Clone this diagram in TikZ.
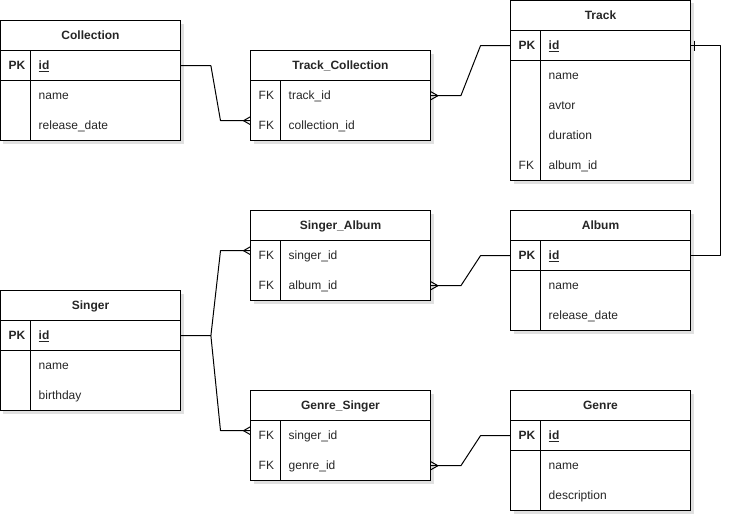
\documentclass[tikz,border=0pt]{standalone}
\usepackage{fontspec}
\setmainfont{Liberation Sans}
\usetikzlibrary{calc}
\newcommand\ertable[5]{% name, x, y, title, nrows
  \fill[shadowbox] (#2+3,#3+3) rectangle (#2+183,#3+33+30*#5);
  \fill[white] (#2,#3) rectangle (#2+180,#3+30+30*#5);
  \node[hdr, anchor=north west] (#1) at (#2,#3) {};
  \node[txt, anchor=base, font=\fontsize{12}{14}\selectfont\bfseries] (#1-title) at (#2+90,#3+19) {#4};
  \draw[frame] (#2,#3) rectangle (#2+180,#3+30+30*#5);
  \draw[frame] (#2,#3+30) -- (#2+180,#3+30);
  \draw[frame] (#2+30,#3+30) -- (#2+30,#3+30+30*#5);
}
\newcommand\errow[5]{% name, x, y(top), key, field
  \node[cell, anchor=north west] (#1) at (#2,#3) {};
  \node[txt, anchor=base west] (#1-k) at (#2+8,#3+19) {#4};
  \node[txt, anchor=base west] (#1-f) at (#2+38,#3+19) {#5};
}
\newcommand\erpk[3]{% name, x, y(top)
  \errow{#1}{#2}{#3}{\textbf{PK}}{\textbf{\underline{id}}}
  \draw[frame] (#2,#3+30) -- (#2+180,#3+30);
}
\begin{document}
\begin{tikzpicture}[x=1pt,y=-1pt,
  frame/.style={line width=1pt,draw=black},
  conn/.style={line width=1pt,draw=black,line join=round},
  hdr/.style={minimum width=180pt,minimum height=30pt,inner sep=0pt},
  cell/.style={minimum width=180pt,minimum height=30pt,inner sep=0pt},
  txt/.style={inner sep=0pt,font=\fontsize{12}{14}\selectfont,text=black!85},
  shadowbox/.style={fill=black,opacity=0.12}]
\useasboundingbox (-0.5,-0.5) rectangle (739.5,521.5);

% Collection
\ertable{coll}{0}{20}{Collection}{3}
\erpk{coll-id}{0}{50}
\errow{coll-name}{0}{80}{}{name}
\errow{coll-rd}{0}{110}{}{release\_date}

% Track_Collection
\ertable{tc}{250}{50}{Track\_Collection}{2}
\errow{tc-t}{250}{80}{FK}{track\_id}
\errow{tc-c}{250}{110}{FK}{collection\_id}

% Track
\ertable{tr}{510}{0}{Track}{5}
\erpk{tr-id}{510}{30}
\errow{tr-name}{510}{60}{}{name}
\errow{tr-avtor}{510}{90}{}{avtor}
\errow{tr-dur}{510}{120}{}{duration}
\errow{tr-alb}{510}{150}{FK}{album\_id}

% Singer_Album
\ertable{sa}{250}{210}{Singer\_Album}{2}
\errow{sa-s}{250}{240}{FK}{singer\_id}
\errow{sa-a}{250}{270}{FK}{album\_id}

% Album
\ertable{al}{510}{210}{Album}{3}
\erpk{al-id}{510}{240}
\errow{al-name}{510}{270}{}{name}
\errow{al-rd}{510}{300}{}{release\_date}

% Singer
\ertable{si}{0}{290}{Singer}{3}
\erpk{si-id}{0}{320}
\errow{si-name}{0}{350}{}{name}
\errow{si-bd}{0}{380}{}{birthday}

% Genre_Singer
\ertable{gs}{250}{390}{Genre\_Singer}{2}
\errow{gs-s}{250}{420}{FK}{singer\_id}
\errow{gs-g}{250}{450}{FK}{genre\_id}

% Genre
\ertable{ge}{510}{390}{Genre}{3}
\erpk{ge-id}{510}{420}
\errow{ge-name}{510}{450}{}{name}
\errow{ge-desc}{510}{480}{}{description}

% end points on the left side of link tables
\coordinate (e-tcc) at ($(tc-c.west)+(0,-5)$);
\coordinate (e-sas) at ($(sa-s.west)+(0,-5)$);
\coordinate (e-gss) at ($(gs-s.west)+(0,-5)$);

% Collection -> Track_Collection
\draw[conn] (coll-id.east) -- ++(30,0) -- ($(e-tcc)+(-30,0)$) -- (e-tcc);
\draw[conn] (e-tcc) ++(0,-4) -- ++(-7,4) -- ++(7,4);

% Track_Collection -> Track
\draw[conn] (tc-t.east) -- ++(30,0) -- ($(tr-id.west)+(-30,0)$) -- (tr-id.west);
\draw[conn] (tc-t.east) ++(0,-4) -- ++(7,4) -- ++(-7,4);

% Track -> Album
\draw[conn] (tr-id.east) -- ++(30,0) |- (al-id.east);
\draw[conn] ($(tr-id.east)+(4,-5)$) -- ++(0,10);

% Singer_Album -> Album
\draw[conn] (sa-a.east) -- ++(30,0) -- ($(al-id.west)+(-30,0)$) -- (al-id.west);
\draw[conn] (sa-a.east) ++(0,-4) -- ++(7,4) -- ++(-7,4);

% Singer -> Singer_Album, Genre_Singer
\draw[conn] (si-id.east) -- ++(30,0) coordinate (sj) -- ($(e-sas)+(-30,0)$) -- (e-sas);
\draw[conn] (sj) -- ($(e-gss)+(-30,0)$) -- (e-gss);
\draw[conn] (e-sas) ++(0,-4) -- ++(-7,4) -- ++(7,4);
\draw[conn] (e-gss) ++(0,-4) -- ++(-7,4) -- ++(7,4);

% Genre_Singer -> Genre
\draw[conn] (gs-g.east) -- ++(30,0) -- ($(ge-id.west)+(-30,0)$) -- (ge-id.west);
\draw[conn] (gs-g.east) ++(0,-4) -- ++(7,4) -- ++(-7,4);
\end{tikzpicture}
\end{document}
